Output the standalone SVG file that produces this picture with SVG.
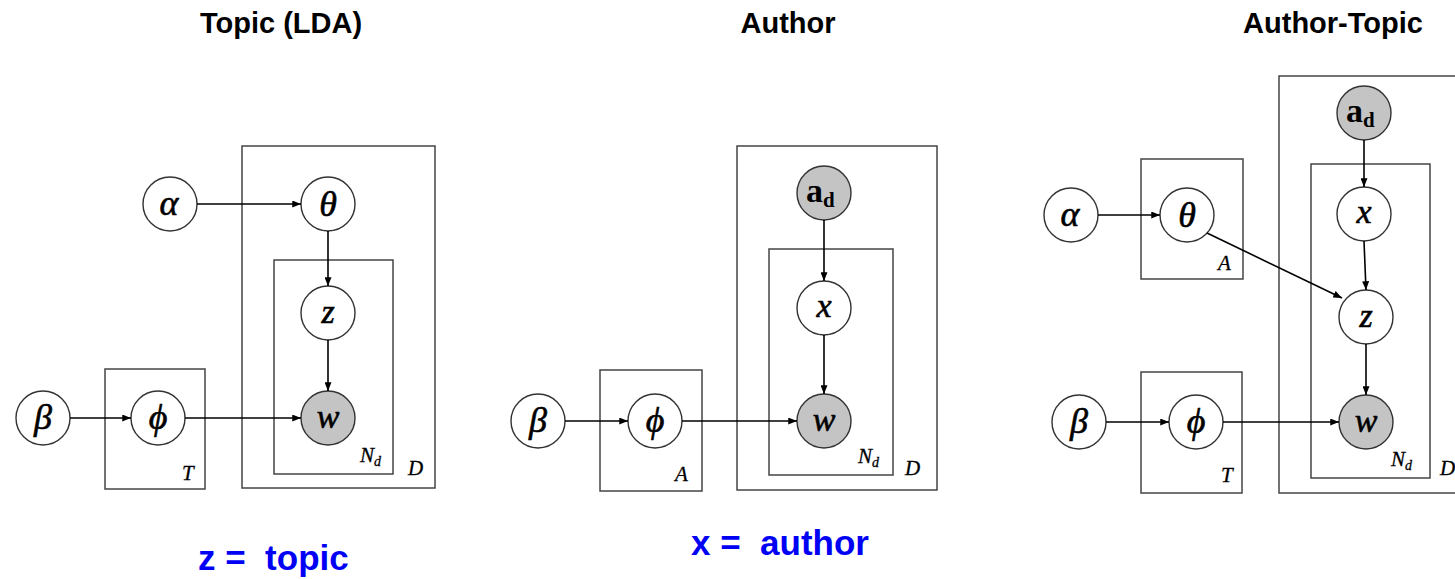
<svg xmlns="http://www.w3.org/2000/svg" width="1455" height="579" viewBox="0 0 1455 579">
<style>
.title{font-family:"Liberation Sans",Arial,sans-serif;font-weight:bold;font-size:29px;fill:#000}
.blue{font-family:"Liberation Sans",Arial,sans-serif;font-weight:bold;font-size:35px;fill:#0000f5;white-space:pre}
.plate{fill:none;stroke:#444;stroke-width:1.5}
.node{fill:#fff;stroke:#333;stroke-width:1.4}
.obs{fill:#c4c4c4;stroke:#333;stroke-width:1.4}
.lab{font-family:"Liberation Serif","Times New Roman",serif;font-style:italic;font-size:36px;fill:#000;stroke:#000;stroke-width:0.6;text-anchor:middle}
.lat{font-size:34px}
.bold{font-family:"Liberation Serif","Times New Roman",serif;font-weight:bold;font-size:34px;fill:#000}
.pl{font-family:"Liberation Serif","Times New Roman",serif;font-style:italic;font-size:21px;fill:#000;stroke:#000;stroke-width:0.3}
.edge{stroke:#000;stroke-width:1.6;fill:none;marker-end:url(#ah)}
</style>
<defs>
<marker id="ah" viewBox="0 0 10 8" refX="10" refY="4" markerWidth="9" markerHeight="7" markerUnits="userSpaceOnUse" orient="auto">
<path d="M0,0 L10,4 L0,8 z" fill="#000"/>
</marker>
</defs>
<rect width="1455" height="579" fill="#fff"/>
<g id="titles">
<text class="title" x="281" y="33" text-anchor="middle">Topic (LDA)</text>
<text class="title" x="788" y="33" text-anchor="middle">Author</text>
<text class="title" x="1333" y="33" text-anchor="middle">Author-Topic</text>
<text class="blue" x="198" y="570">z =  topic</text>
<text class="blue" x="691" y="555">x =  author</text>
</g>
<!-- Panel 1 -->
<g id="p1-plates">
<rect class="plate" x="242" y="146" width="193" height="342"/>
<rect class="plate" x="274" y="260" width="119" height="214"/>
<rect class="plate" x="105" y="369" width="100" height="120"/>
<text class="pl" x="182" y="480">T</text>
<text class="pl" x="360" y="462">N<tspan font-size="14" dy="4">d</tspan></text>
<text class="pl" x="408" y="475">D</text>
</g>
<g id="p1-alpha"><circle class="node" cx="170" cy="204" r="27"/><text class="lab" x="169" y="215">α</text></g>
<g id="p1-theta"><circle class="node" cx="328" cy="204" r="27"/><text class="lab" x="328" y="216">θ</text></g>
<g id="p1-z"><circle class="node" cx="328" cy="313" r="27"/><text class="lab lat" x="328" y="323">z</text></g>
<g id="p1-w"><circle class="obs" cx="328" cy="418" r="27"/><text class="lab lat" x="328" y="428">w</text></g>
<g id="p1-beta"><circle class="node" cx="43" cy="418" r="27"/><text class="lab" x="43" y="429">β</text></g>
<g id="p1-phi"><circle class="node" cx="158" cy="418" r="27"/><text class="lab" x="158" y="429">ϕ</text></g>
<!-- Panel 2 -->
<g id="p2-plates">
<rect class="plate" x="737" y="146" width="200" height="344"/>
<rect class="plate" x="769" y="249" width="124" height="226"/>
<rect class="plate" x="600" y="370" width="102" height="121"/>
<text class="pl" x="675" y="481">A</text>
<text class="pl" x="858" y="463">N<tspan font-size="14" dy="4">d</tspan></text>
<text class="pl" x="905" y="475">D</text>
</g>
<g id="p2-ad"><circle class="obs" cx="824" cy="193" r="27"/><text class="bold" x="806" y="202">a<tspan font-size="21" dy="5">d</tspan></text></g>
<g id="p2-x"><circle class="node" cx="824" cy="308" r="27"/><text class="lab lat" x="824" y="317">x</text></g>
<g id="p2-w"><circle class="obs" cx="824" cy="421" r="27"/><text class="lab lat" x="824" y="431">w</text></g>
<g id="p2-beta"><circle class="node" cx="538" cy="421" r="27"/><text class="lab" x="538" y="432">β</text></g>
<g id="p2-phi"><circle class="node" cx="655" cy="421" r="27"/><text class="lab" x="655" y="432">ϕ</text></g>
<!-- Panel 3 -->
<g id="p3-plates">
<rect class="plate" x="1279" y="76" width="200" height="417"/>
<rect class="plate" x="1311" y="164" width="119" height="314"/>
<rect class="plate" x="1141" y="159" width="102" height="120"/>
<rect class="plate" x="1141" y="372" width="101" height="121"/>
<text class="pl" x="1218" y="270" font-size="14">A</text>
<text class="pl" x="1221" y="482">T</text>
<text class="pl" x="1391" y="466">N<tspan font-size="14" dy="4">d</tspan></text>
<text class="pl" x="1440" y="475">D</text>
</g>
<g id="p3-ad"><circle class="obs" cx="1364" cy="113" r="27"/><text class="bold" x="1346" y="122">a<tspan font-size="21" dy="5">d</tspan></text></g>
<g id="p3-x"><circle class="node" cx="1364" cy="214" r="27"/><text class="lab lat" x="1364" y="223">x</text></g>
<g id="p3-z"><circle class="node" cx="1366" cy="317" r="27"/><text class="lab lat" x="1366" y="327">z</text></g>
<g id="p3-w"><circle class="obs" cx="1366" cy="422" r="27"/><text class="lab lat" x="1366" y="432">w</text></g>
<g id="p3-alpha"><circle class="node" cx="1071" cy="215" r="27"/><text class="lab" x="1070" y="226">α</text></g>
<g id="p3-theta"><circle class="node" cx="1187" cy="215" r="27"/><text class="lab" x="1187" y="227">θ</text></g>
<g id="p3-beta"><circle class="node" cx="1079" cy="422" r="27"/><text class="lab" x="1079" y="433">β</text></g>
<g id="p3-phi"><circle class="node" cx="1196" cy="422" r="27"/><text class="lab" x="1196" y="433">ϕ</text></g>
<g id="connectors">
<line class="edge" x1="197" y1="204" x2="301" y2="204"/>
<line class="edge" x1="328" y1="231" x2="328" y2="286"/>
<line class="edge" x1="328" y1="340" x2="328" y2="391"/>
<line class="edge" x1="70" y1="418" x2="131" y2="418"/>
<line class="edge" x1="185" y1="418" x2="301" y2="418"/>
<line class="edge" x1="824" y1="220" x2="824" y2="281"/>
<line class="edge" x1="824" y1="335" x2="824" y2="394"/>
<line class="edge" x1="565" y1="421" x2="628" y2="421"/>
<line class="edge" x1="682" y1="421" x2="797" y2="421"/>
<line class="edge" x1="1364" y1="140" x2="1364" y2="187"/>
<line class="edge" x1="1364" y1="241" x2="1366" y2="290"/>
<line class="edge" x1="1366" y1="344" x2="1366" y2="395"/>
<line class="edge" x1="1098" y1="215" x2="1160" y2="215"/>
<line class="edge" x1="1207" y1="233" x2="1342" y2="298"/>
<line class="edge" x1="1106" y1="422" x2="1169" y2="422"/>
<line class="edge" x1="1223" y1="422" x2="1339" y2="422"/>
</g>
</svg>
